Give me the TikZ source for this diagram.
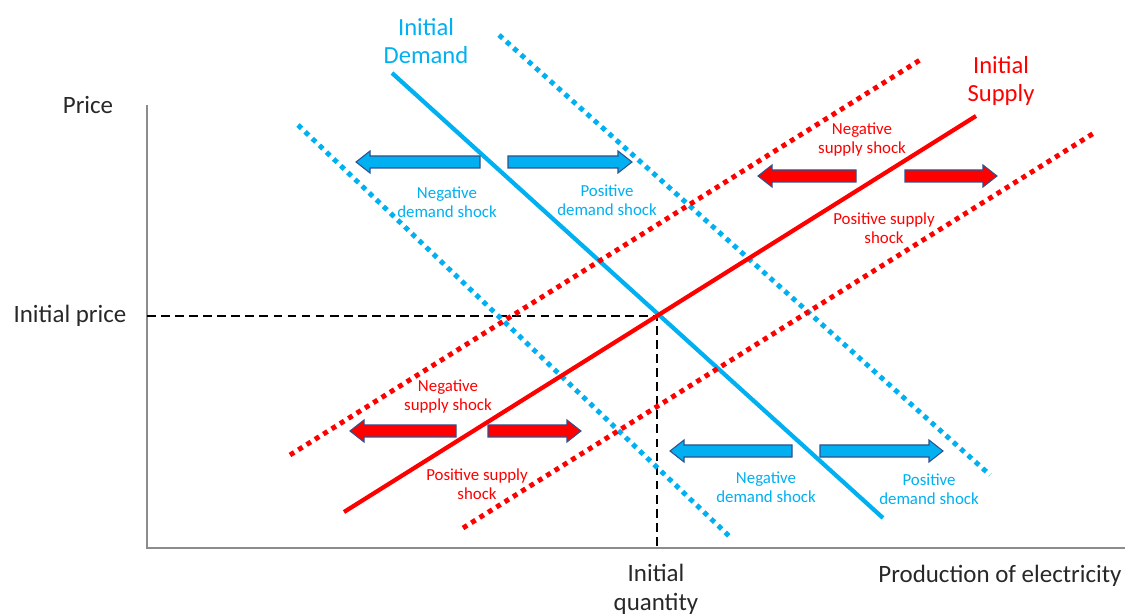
\documentclass[tikz,border=0pt]{standalone}
\usepackage{fontspec}
\setmainfont{Carlito}
\usepackage{xcolor}
\usetikzlibrary{arrows.meta, positioning}

\definecolor{dem}{RGB}{0,176,240}
\definecolor{sup}{RGB}{255,0,0}
\definecolor{arrowline}{RGB}{47,82,143}
\definecolor{axis}{RGB}{140,140,140}
\definecolor{txt}{RGB}{40,40,40}

\tikzset{
  curve/.style={line width=2.4pt},
  shifted/.style={line width=2.8pt, dash pattern=on 2.8pt off 2.8pt},
  biglabel/.style={font=\fontsize{14.2}{16.4}\selectfont, text=txt, align=center, inner sep=0pt},
  curvelabel/.style={font=\fontsize{14}{16.4}\selectfont, align=center, inner sep=0pt},
  shocklabel/.style={font=\fontsize{9.6}{10.8}\selectfont, align=center, inner sep=0pt}
}

% block arrow: tail x, tip x, y, fill colour
\newcommand{\shockarrow}[4]{%
  \pgfmathsetmacro{\hb}{#2-14*sign(#2-#1)}
  \filldraw[fill=#4, draw=arrowline, line width=0.6pt]
    (#1,#3-6) -- (\hb,#3-6) -- (\hb,#3-11) -- (#2,#3) -- (\hb,#3+11)
    -- (\hb,#3+6) -- (#1,#3+6) -- cycle;}

\begin{document}
\begin{tikzpicture}[x=0.02cm, y=-0.02cm]
\useasboundingbox (0,0) rectangle (1125,614);

% axes
\coordinate (origin) at (147,548);
\coordinate (ytop) at (147,105);
\coordinate (xend) at (1125,548);
\draw[axis, line width=0.7pt] (ytop) -- (origin) -- (xend);

% equilibrium
\coordinate (eq) at (657,316);
\coordinate (eqy) at (147,316);
\coordinate (eqx) at (657,548);
\draw[dashed, line width=1pt, dash pattern=on 5pt off 3pt] (eqy) -- (eq) -- (eqx);

% demand curves
\coordinate (d0a) at (392,73);   \coordinate (d0b) at (883,518);
\coordinate (d1a) at (298,125);  \coordinate (d1b) at (729,536);
\coordinate (d2a) at (499,35);   \coordinate (d2b) at (990,475);
\draw[dem, shifted] (d1a) -- (d1b);
\draw[dem, shifted] (d2a) -- (d2b);
\draw[dem, curve] (d0a) -- (d0b);

% supply curves
\coordinate (s0a) at (344,512);  \coordinate (s0b) at (976,116);
\coordinate (s1a) at (290,455);  \coordinate (s1b) at (920,60);
\coordinate (s2a) at (463,528);  \coordinate (s2b) at (1094,133);
\draw[sup, shifted] (s1a) -- (s1b);
\draw[sup, shifted] (s2a) -- (s2b);
\draw[sup, curve] (s0a) -- (s0b);

% shock arrows
\shockarrow{480}{356}{162}{dem}
\shockarrow{508}{632}{162}{dem}
\shockarrow{856}{758}{176}{sup}
\shockarrow{905}{997}{176}{sup}
\shockarrow{456}{350}{431}{sup}
\shockarrow{488}{581}{431}{sup}
\shockarrow{792}{670}{451}{dem}
\shockarrow{820}{943}{451}{dem}

% labels
\node[biglabel] (price) at (88,105) {Price};
\node[biglabel] (iprice) at (70,316) {Initial price};
\node[biglabel] (iqty) at (656,589) {Initial\\quantity};
\node[biglabel] (prod) at (1000,576) {Production of electricity};
\node[curvelabel, text=dem] (dlab) at (426,41) {Initial\\Demand};
\node[curvelabel, text=sup] (slab) at (1001,81) {Initial\\Supply};

\node[shocklabel, text=dem] (ndt) at (447,202) {Negative\\demand shock};
\node[shocklabel, text=dem] (pdt) at (607,200) {Positive\\demand shock};
\node[shocklabel, text=sup] (nst) at (862,140) {Negative\\supply shock};
\node[shocklabel, text=sup] (pst) at (884,228) {Positive supply\\shock};
\node[shocklabel, text=sup] (nsb) at (448,397) {Negative\\supply shock};
\node[shocklabel, text=sup] (psb) at (477,484) {Positive supply\\shock};
\node[shocklabel, text=dem] (ndb) at (766,487) {Negative\\demand shock};
\node[shocklabel, text=dem] (pdb) at (929,489) {Positive\\demand shock};
\end{tikzpicture}
\end{document}
